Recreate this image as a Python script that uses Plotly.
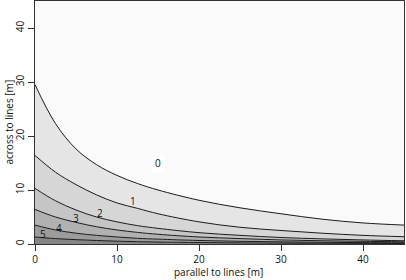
import plotly.graph_objects as go

x_pos = [0, 2.5, 5, 7.5, 10, 12.5, 15, 20, 25, 30, 35, 40, 45]

# contour lines, top (level boundary 0/1) to bottom (5/6)
line1 = [29.5, 22.3, 17.6, 14.7, 12.7, 11.2, 10.0, 8.1, 6.7, 5.6, 4.6, 3.9, 3.5]
line2 = [16.4, 13.3, 11.0, 9.1, 7.6, 6.6, 5.6, 4.1, 3.1, 2.5, 2.0, 1.6, 1.35]
line3 = [10.3, 8.0, 6.3, 5.0, 4.1, 3.4, 2.9, 2.1, 1.6, 1.2, 0.95, 0.75, 0.6]
line4 = [6.4, 5.0, 4.0, 3.2, 2.6, 2.15, 1.8, 1.3, 1.0, 0.75, 0.6, 0.5, 0.4]
line5 = [3.5, 2.6, 2.0, 1.6, 1.3, 1.05, 0.9, 0.65, 0.5, 0.4, 0.32, 0.26, 0.22]
line6 = [1.3, 1.0, 0.8, 0.65, 0.52, 0.43, 0.36, 0.27, 0.21, 0.17, 0.14, 0.12, 0.1]

# contour labels and their positions
label_text = ["0", "1", "2", "3", "4", "5"]
label_x = [15.0, 12.0, 7.9, 5.0, 2.9, 1.0]
label_y = [15.0, 7.9, 5.7, 4.8, 3.0, 1.9]

x_range = [0, 45]
y_range = [0, 45]
x_ticks = [0, 10, 20, 30, 40]
y_ticks = [0, 10, 20, 30, 40]

x_title = "parallel to lines [m]"
y_title = "across to lines [m]"

fills = ["#858585", "#9c9c9c", "#b1b1b1", "#c5c5c5", "#d6d6d6", "#e5e5e5", "#fafafa"]

fig = go.Figure()
# baseline
fig.add_trace(go.Scatter(x=x_pos, y=[y_range[0]] * len(x_pos), mode="lines",
                         line=dict(width=0), showlegend=False, hoverinfo="skip"))
stack = [line6, line5, line4, line3, line2, line1]
for i, ln in enumerate(stack):
    fig.add_trace(go.Scatter(x=x_pos, y=ln, mode="lines", fill="tonexty",
                             fillcolor=fills[i],
                             line=dict(color="#1a1a1a", width=1, shape="spline", smoothing=1.0),
                             showlegend=False, hoverinfo="skip"))
# top region
fig.add_trace(go.Scatter(x=x_pos, y=[y_range[1]] * len(x_pos), mode="lines", fill="tonexty",
                         fillcolor=fills[-1], line=dict(width=0),
                         showlegend=False, hoverinfo="skip"))

font_fam = "Open Sans, Liberation Sans, sans-serif"
for t, lx, ly in zip(label_text, label_x, label_y):
    fig.add_annotation(x=lx, y=ly, text=t, showarrow=False,
                       font=dict(size=10, color="#111111", family=font_fam),
                       bgcolor="#ffffff" if t == "0" else None,
                       borderpad=2)

# axis titles as paper-positioned annotations
fig.add_annotation(x=0.497, y=-0.115, xref="paper", yref="paper", text=x_title,
                   showarrow=False, xanchor="center", yanchor="middle",
                   font=dict(size=10, color="#111111", family=font_fam))
fig.add_annotation(x=-0.073, y=0.5, xref="paper", yref="paper", text=y_title,
                   showarrow=False, xanchor="center", yanchor="middle", textangle=-90,
                   font=dict(size=10, color="#111111", family=font_fam))

fig.update_layout(
    width=406, height=280,
    margin=dict(l=35, r=2, t=1, b=36),
    paper_bgcolor="white", plot_bgcolor="white",
    font=dict(family=font_fam, size=10, color="#111111"),
)
fig.update_xaxes(range=x_range, tickvals=x_ticks, ticks="outside", ticklen=6,
                 tickcolor="#333333", showgrid=False, zeroline=False,
                 showline=True, linecolor="#333333", linewidth=1, mirror=True,
                 automargin=False, tickfont=dict(size=10))
fig.update_yaxes(range=y_range, tickvals=y_ticks, ticks="outside", ticklen=6,
                 tickcolor="#333333", showgrid=False, zeroline=False,
                 showline=True, linecolor="#333333", linewidth=1, mirror=True,
                 tickangle=-90, automargin=False, tickfont=dict(size=10))

fig.write_html("out.html", config={"displayModeBar": False},
               post_script="document.body.style.margin='0';")
